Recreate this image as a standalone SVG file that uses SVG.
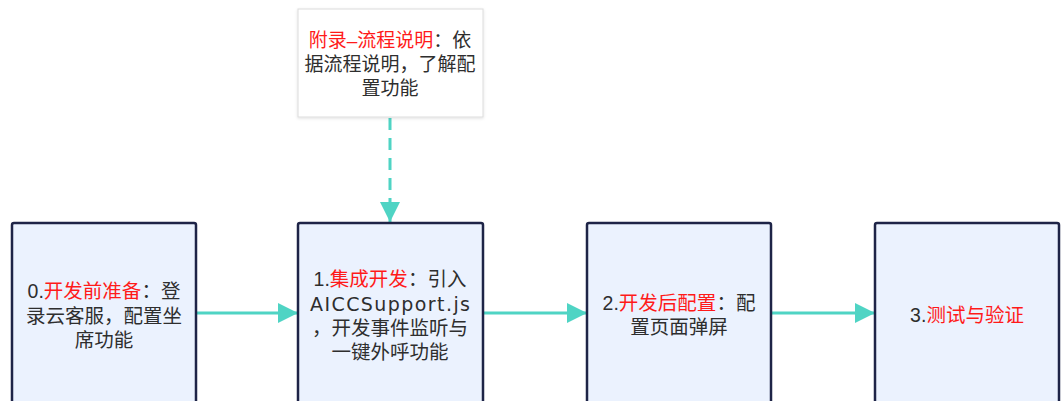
<svg xmlns="http://www.w3.org/2000/svg" width="1061" height="401" viewBox="0 0 1061 401">
<style>
.box{fill:#ebf2fe;stroke:#1e2447;stroke-width:2.5}
.note{fill:#ffffff;stroke:#dcdcdc;stroke-width:1}
text{font-family:"Liberation Sans","Noto Sans CJK SC",sans-serif;font-size:19.5px;fill:#2e2e2e;text-anchor:middle}
.r{fill:#ff1a1a}
.c{stroke:#4fd4c4;stroke-width:3;fill:none}
</style>
<defs>
<marker id="ah" markerWidth="20" markerHeight="20" refX="20" refY="10" orient="auto" markerUnits="userSpaceOnUse" viewBox="0 0 20 20">
<path d="M0,0 L20,10 L0,20 Z" fill="#4fd4c4"/>
</marker>
<filter id="sh" x="-10%" y="-10%" width="120%" height="120%">
<feDropShadow dx="0" dy="1" stdDeviation="1.5" flood-color="#000" flood-opacity="0.12"/>
</filter>
</defs>
<g id="connectors">
<line class="c" x1="196" y1="313" x2="298" y2="313" marker-end="url(#ah)"/>
<line class="c" x1="483" y1="313" x2="587" y2="313" marker-end="url(#ah)"/>
<line class="c" x1="771" y1="313" x2="875" y2="313" marker-end="url(#ah)"/>
<line class="c" x1="390" y1="118" x2="390" y2="222" stroke-dasharray="12,8" marker-end="url(#ah)"/>
</g>
<g id="note">
<rect class="note" x="298" y="9" width="185" height="108" filter="url(#sh)"/>
<text x="390" y="47" style="font-size:19px"><tspan class="r">附录–流程说明</tspan>：依</text>
<text x="390" y="71" style="font-size:19px">据流程说明，了解配</text>
<text x="390" y="95" style="font-size:19px">置功能</text>
</g>
<g id="n0">
<rect class="box" x="12" y="223" width="184" height="190" rx="2"/>
<text x="104" y="298">0.<tspan class="r">开发前准备</tspan>：登</text>
<text x="104" y="323">录云客服，配置坐</text>
<text x="104" y="347">席功能</text>
</g>
<g id="n1">
<rect class="box" x="298" y="223" width="185" height="190" rx="2"/>
<text x="390" y="286">1.<tspan class="r">集成开发</tspan>：引入</text>
<text x="390" y="311" style="font-family:'DejaVu Sans',sans-serif;font-size:19px" textLength="160" lengthAdjust="spacing">AICCSupport.js</text>
<text x="390" y="335">，开发事件监听与</text>
<text x="390" y="359">一键外呼功能</text>
</g>
<g id="n2">
<rect class="box" x="587" y="223" width="184" height="190" rx="2"/>
<text x="679" y="310">2.<tspan class="r">开发后配置</tspan>：配</text>
<text x="679" y="334">置页面弹屏</text>
</g>
<g id="n3">
<rect class="box" x="875" y="223" width="184" height="190" rx="2"/>
<text x="967" y="322">3.<tspan class="r">测试与验证</tspan></text>
</g>
</svg>
